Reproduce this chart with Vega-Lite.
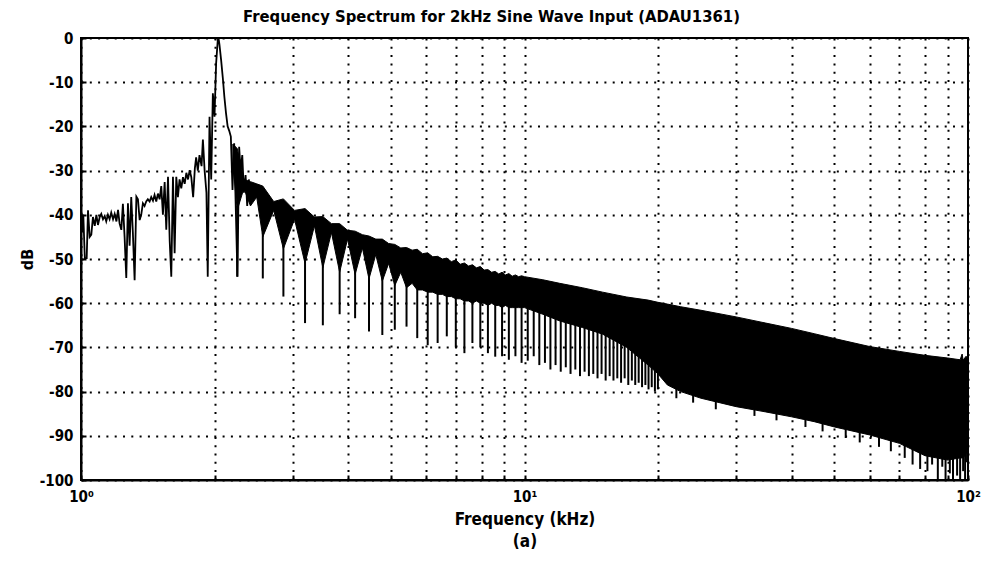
{
  "$schema": "https://vega.github.io/schema/vega-lite/v6.json",
  "width": 887,
  "height": 442,
  "autosize": {"type": "none"},
  "padding": {"left": 81, "top": 38, "right": 14, "bottom": 84},
  "background": "white",
  "title": {
    "text": "Frequency Spectrum for 2kHz Sine Wave Input (ADAU1361)",
    "fontSize": 16.5,
    "fontWeight": "bold",
    "font": "DejaVu Sans Condensed, Liberation Sans, sans-serif",
    "color": "black",
    "anchor": "middle",
    "dx": -33,
    "offset": 6
  },
  "config": {
    "view": {"stroke": "black", "strokeWidth": 2},
    "axis": {
      "domainColor": "black",
      "domainWidth": 2,
      "tickColor": "black",
      "tickWidth": 2,
      "labelColor": "black",
      "labelFont": "DejaVu Sans Condensed, Liberation Sans, sans-serif",
      "labelFontSize": 15,
      "labelFontWeight": "bold",
      "titleFont": "DejaVu Sans Condensed, Liberation Sans, sans-serif",
      "titleFontSize": 16,
      "titleFontWeight": "bold",
      "titleColor": "black",
      "gridColor": "black",
      "gridOpacity": 1,
      "gridDash": [2, 6.3],
      "gridWidth": 2
    }
  },
  "datasets": {
    "line": [
      {"f":1.000,"d":-38.5},{"f":1.006,"d":-44},{"f":1.012,"d":-40},{"f":1.020,"d":-49.8},{"f":1.030,"d":-49.8},{"f":1.037,"d":-39},
      {"f":1.046,"d":-45},{"f":1.055,"d":-44.5},{"f":1.064,"d":-40.5},{"f":1.074,"d":-42.5},{"f":1.083,"d":-40},{"f":1.092,"d":-42.3},
      {"f":1.102,"d":-40.5},{"f":1.111,"d":-39.8},{"f":1.121,"d":-41},{"f":1.131,"d":-40.3},{"f":1.140,"d":-41.5},{"f":1.150,"d":-40},
      {"f":1.160,"d":-41},{"f":1.170,"d":-39.5},{"f":1.181,"d":-41},{"f":1.191,"d":-39.8},{"f":1.202,"d":-41.5},{"f":1.212,"d":-38.9},
      {"f":1.222,"d":-42},{"f":1.233,"d":-43.4},{"f":1.243,"d":-37.5},{"f":1.254,"d":-45},{"f":1.265,"d":-54.3},{"f":1.276,"d":-37.4},
      {"f":1.287,"d":-47},{"f":1.298,"d":-36},{"f":1.309,"d":-44},{"f":1.321,"d":-54.8},{"f":1.333,"d":-35.9},{"f":1.344,"d":-36.5},
      {"f":1.356,"d":-41.2},{"f":1.367,"d":-40},{"f":1.379,"d":-37.4},{"f":1.391,"d":-38},{"f":1.403,"d":-37},{"f":1.415,"d":-36.5},
      {"f":1.428,"d":-37},{"f":1.440,"d":-36},{"f":1.453,"d":-36.8},{"f":1.465,"d":-35.5},{"f":1.478,"d":-37},{"f":1.491,"d":-35.2},
      {"f":1.504,"d":-36.5},{"f":1.517,"d":-33.5},{"f":1.530,"d":-40},{"f":1.544,"d":-32.6},{"f":1.557,"d":-43.4},{"f":1.571,"d":-31.4},
      {"f":1.585,"d":-46},{"f":1.598,"d":-54},{"f":1.612,"d":-31.4},{"f":1.626,"d":-48.7},{"f":1.640,"d":-31.4},{"f":1.654,"d":-36},
      {"f":1.668,"d":-32},{"f":1.683,"d":-34},{"f":1.698,"d":-31.5},{"f":1.713,"d":-33},{"f":1.728,"d":-30.5},{"f":1.743,"d":-32},
      {"f":1.758,"d":-29.9},{"f":1.773,"d":-31.5},{"f":1.790,"d":-36},{"f":1.806,"d":-29.5},{"f":1.818,"d":-27},{"f":1.834,"d":-30},
      {"f":1.850,"d":-26.5},{"f":1.870,"d":-29},{"f":1.883,"d":-23},{"f":1.900,"d":-30},{"f":1.918,"d":-35},{"f":1.931,"d":-54},
      {"f":1.949,"d":-17.8},{"f":1.966,"d":-32},{"f":1.983,"d":-12.5},{"f":2.000,"d":-17.8},{"f":2.017,"d":-5.7},{"f":2.034,"d":-0.5},
      {"f":2.042,"d":0},{"f":2.052,"d":-1.5},{"f":2.070,"d":-5},{"f":2.088,"d":-9},{"f":2.105,"d":-13.3},{"f":2.123,"d":-17},
      {"f":2.141,"d":-20},{"f":2.159,"d":-21},{"f":2.177,"d":-22.3},{"f":2.196,"d":-34.4},{"f":2.215,"d":-23.8},{"f":2.234,"d":-38.9},
      {"f":2.253,"d":-54},{"f":2.273,"d":-24.6},{"f":2.290,"d":-30},{"f":2.310,"d":-26.5},{"f":2.330,"d":-35},{"f":2.350,"d":-31},
      {"f":2.370,"d":-38},{"f":2.390,"d":-32},{"f":2.410,"d":-36},{"f":2.430,"d":-33}
    ],
    "band": [
      {"f":2.20,"d":-24,"d2":-28},{"f":2.25,"d":-25,"d2":-39},{"f":2.33,"d":-32,"d2":-34},{"f":2.41,"d":-32.5,"d2":-38},
      {"f":2.49,"d":-33,"d2":-36},{"f":2.57,"d":-33.5,"d2":-45},{"f":2.72,"d":-37,"d2":-39},{"f":2.86,"d":-36.4,"d2":-47.7},
      {"f":3.03,"d":-39,"d2":-41},{"f":3.20,"d":-38.6,"d2":-51},{"f":3.36,"d":-40.5,"d2":-42.5},{"f":3.51,"d":-40.4,"d2":-52},
      {"f":3.67,"d":-42,"d2":-44},{"f":3.83,"d":-42,"d2":-53},{"f":3.99,"d":-43.5,"d2":-45.5},{"f":4.15,"d":-43.7,"d2":-53.5},
      {"f":4.31,"d":-44.5,"d2":-47.5},{"f":4.46,"d":-44.8,"d2":-54.5},{"f":4.62,"d":-45.5,"d2":-49},{"f":4.78,"d":-45.5,"d2":-55},
      {"f":4.94,"d":-46.5,"d2":-51},{"f":5.10,"d":-46.7,"d2":-56},{"f":5.26,"d":-47.5,"d2":-53},{"f":5.42,"d":-47.4,"d2":-56.5},
      {"f":5.58,"d":-48,"d2":-55.5},{"f":5.73,"d":-47.8,"d2":-57},{"f":5.89,"d":-48.8,"d2":-57},{"f":6.05,"d":-48.6,"d2":-57.5},
      {"f":6.21,"d":-49.5,"d2":-57.5},{"f":6.37,"d":-49.4,"d2":-58},{"f":6.53,"d":-50,"d2":-58},{"f":6.68,"d":-49.8,"d2":-58.5},
      {"f":6.84,"d":-50.6,"d2":-58.5},{"f":7.00,"d":-50.2,"d2":-59},{"f":7.16,"d":-51.2,"d2":-59},{"f":7.32,"d":-50.9,"d2":-59.5},
      {"f":7.48,"d":-51.6,"d2":-59.5},{"f":7.63,"d":-51.3,"d2":-60},{"f":7.79,"d":-52,"d2":-59.5},{"f":7.95,"d":-51.7,"d2":-60},
      {"f":8.11,"d":-52.5,"d2":-60},{"f":8.27,"d":-52.4,"d2":-60.5},{"f":8.43,"d":-53,"d2":-60},{"f":8.59,"d":-52.8,"d2":-60.5},
      {"f":8.75,"d":-53.4,"d2":-60.5},{"f":8.90,"d":-53,"d2":-61},{"f":9.06,"d":-53.6,"d2":-60.5},{"f":9.22,"d":-53.3,"d2":-61},
      {"f":9.38,"d":-53.9,"d2":-61},{"f":9.54,"d":-53.6,"d2":-61},{"f":9.70,"d":-54,"d2":-61},{"f":9.85,"d":-53.8,"d2":-61},
      {"f":10,"d":-54,"d2":-61},{"f":11,"d":-54.7,"d2":-62.5},{"f":12,"d":-55.5,"d2":-64},{"f":13.5,"d":-56.5,"d2":-65.5},
      {"f":15,"d":-57.5,"d2":-67},{"f":17,"d":-58.6,"d2":-70},{"f":19,"d":-59.3,"d2":-74},{"f":20,"d":-59.8,"d2":-76},
      {"f":21,"d":-60.2,"d2":-78.5},{"f":22.5,"d":-60.8,"d2":-80},{"f":25,"d":-61.6,"d2":-81.5},{"f":30,"d":-63.1,"d2":-83.4},{"f":35,"d":-64.5,"d2":-84.6},
      {"f":40,"d":-65.7,"d2":-85.7},{"f":45,"d":-66.9,"d2":-86.8},{"f":50,"d":-68,"d2":-88},{"f":60,"d":-69.8,"d2":-89.8},
      {"f":70,"d":-70.9,"d2":-91.7},{"f":80,"d":-71.8,"d2":-94.5},{"f":90,"d":-72.4,"d2":-95.5},{"f":96,"d":-72.8,"d2":-95},
      {"f":97,"d":-71.5,"d2":-95},{"f":97.5,"d":-72.9,"d2":-95},{"f":99,"d":-72,"d2":-94},{"f":100,"d":-72.5,"d2":-93}
    ],
    "spikes": [
      {"f":2.25,"d":-38,"d2":-54},{"f":2.57,"d":-44,"d2":-54.4},{"f":2.86,"d":-46.7,"d2":-58.5},{"f":3.20,"d":-50,"d2":-64.5},
      {"f":3.51,"d":-51,"d2":-65},{"f":3.83,"d":-52,"d2":-62.5},{"f":4.15,"d":-52.5,"d2":-63.4},{"f":4.46,"d":-53.5,"d2":-66.4},
      {"f":4.78,"d":-54,"d2":-67.2},{"f":5.10,"d":-55,"d2":-66},{"f":5.42,"d":-55.5,"d2":-65.3},{"f":5.73,"d":-56,"d2":-67.9},
      {"f":6.05,"d":-56.5,"d2":-69.5},{"f":6.37,"d":-57,"d2":-69},{"f":6.68,"d":-57.5,"d2":-67.5},{"f":7.00,"d":-58,"d2":-70},
      {"f":7.32,"d":-58.5,"d2":-71.3},{"f":7.63,"d":-59,"d2":-69},{"f":7.95,"d":-59,"d2":-70},{"f":8.27,"d":-59.5,"d2":-71.3},
      {"f":8.59,"d":-59.5,"d2":-72.1},{"f":8.90,"d":-60,"d2":-72},{"f":9.22,"d":-60,"d2":-72.8},{"f":9.54,"d":-60,"d2":-72},
      {"f":9.85,"d":-60,"d2":-73.5},{"f":10.17,"d":-60.3,"d2":-73},{"f":10.49,"d":-61,"d2":-72},{"f":10.80,"d":-61.4,"d2":-74},
      {"f":11.12,"d":-61.8,"d2":-73.5},{"f":11.44,"d":-62.2,"d2":-75},{"f":11.75,"d":-62.6,"d2":-74},{"f":12.07,"d":-63,"d2":-75.5},
      {"f":12.39,"d":-63.4,"d2":-74.5},{"f":12.70,"d":-63.7,"d2":-76},{"f":13.02,"d":-64,"d2":-75},{"f":13.34,"d":-64.3,"d2":-76.5},
      {"f":13.66,"d":-64.6,"d2":-75.5},{"f":13.97,"d":-65,"d2":-76.5},{"f":14.29,"d":-65.3,"d2":-76},{"f":14.61,"d":-65.6,"d2":-77},
      {"f":14.92,"d":-65.9,"d2":-76},{"f":15.24,"d":-66.3,"d2":-77.5},{"f":15.56,"d":-66.6,"d2":-76.5},{"f":15.87,"d":-67,"d2":-77.5},
      {"f":16.19,"d":-67.3,"d2":-77},{"f":16.51,"d":-67.6,"d2":-78},{"f":16.82,"d":-67.9,"d2":-77},{"f":17.14,"d":-68.2,"d2":-78.5},
      {"f":17.46,"d":-68.6,"d2":-77.5},{"f":17.77,"d":-69,"d2":-78.5},{"f":18.09,"d":-69.3,"d2":-78},{"f":18.41,"d":-69.6,"d2":-79},
      {"f":18.73,"d":-70,"d2":-78.5},{"f":19.04,"d":-70.2,"d2":-79.5},{"f":19.36,"d":-70.5,"d2":-79},{"f":19.68,"d":-70.8,"d2":-80},
      {"f":19.99,"d":-71,"d2":-79.5},
      {"f":22,"d":-79,"d2":-81.5},{"f":24,"d":-80,"d2":-82.5},{"f":27,"d":-81.5,"d2":-84},{"f":33,"d":-83,"d2":-85.5},
      {"f":37,"d":-84,"d2":-86.5},{"f":43,"d":-85,"d2":-88},{"f":47,"d":-86,"d2":-89},{"f":53,"d":-88,"d2":-90.5},
      {"f":57,"d":-89,"d2":-91.5},{"f":63,"d":-89.5,"d2":-92.5},{"f":67,"d":-90.5,"d2":-93.5},{"f":72,"d":-91.5,"d2":-95},
      {"f":75,"d":-92,"d2":-96.5},{"f":78,"d":-93,"d2":-97.5},{"f":81,"d":-94,"d2":-98},{"f":83,"d":-94,"d2":-96.5},
      {"f":85.5,"d":-94,"d2":-100},{"f":87.5,"d":-94,"d2":-97},{"f":89,"d":-94,"d2":-100},{"f":91,"d":-94,"d2":-98.5},
      {"f":92.5,"d":-94,"d2":-100},{"f":94.5,"d":-94,"d2":-99},{"f":96,"d":-94,"d2":-100},{"f":97.5,"d":-94,"d2":-98},
      {"f":98.5,"d":-93,"d2":-100},{"f":99.5,"d":-93,"d2":-96}
    ]
  },
  "encoding": {
    "x": {
      "field": "f",
      "type": "quantitative",
      "scale": {"type": "log", "domain": [1, 100], "nice": false},
      "axis": {
        "values": [1,2,3,4,5,6,7,8,9,10,20,30,40,50,60,70,80,90,100],
        "labelExpr": "datum.value == 1 ? '10⁰' : datum.value == 10 ? '10¹' : datum.value == 100 ? '10²' : ''",
        "labelFlush": false,
        "labelOverlap": false,
        "labelBound": false,
        "grid": true,
        "tickSize": -5,
        "labelPadding": 14,
        "title": ["Frequency (kHz)", "(a)"],
        "titleFontSize": 17,
        "titleLineHeight": 22,
        "titlePadding": 7
      }
    },
    "y": {
      "field": "d",
      "type": "quantitative",
      "scale": {"domain": [-100, 0], "nice": false, "zero": false},
      "axis": {
        "values": [-100,-90,-80,-70,-60,-50,-40,-30,-20,-10,0],
        "labelExpr": "'' + datum.value",
        "grid": true,
        "tickSize": -5,
        "labelPadding": 13,
        "title": "dB",
        "titlePadding": 4
      }
    }
  },
  "layer": [
    {
      "data": {"name": "band"},
      "mark": {"type": "area", "color": "black", "stroke": "black", "strokeWidth": 1, "clip": true},
      "encoding": {"y2": {"field": "d2"}}
    },
    {
      "data": {"name": "spikes"},
      "mark": {"type": "rule", "color": "black", "strokeWidth": 2, "clip": true},
      "encoding": {"y2": {"field": "d2"}}
    },
    {
      "data": {"name": "line"},
      "mark": {"type": "line", "color": "black", "strokeWidth": 1.8, "clip": true},
      "encoding": {}
    }
  ]
}
